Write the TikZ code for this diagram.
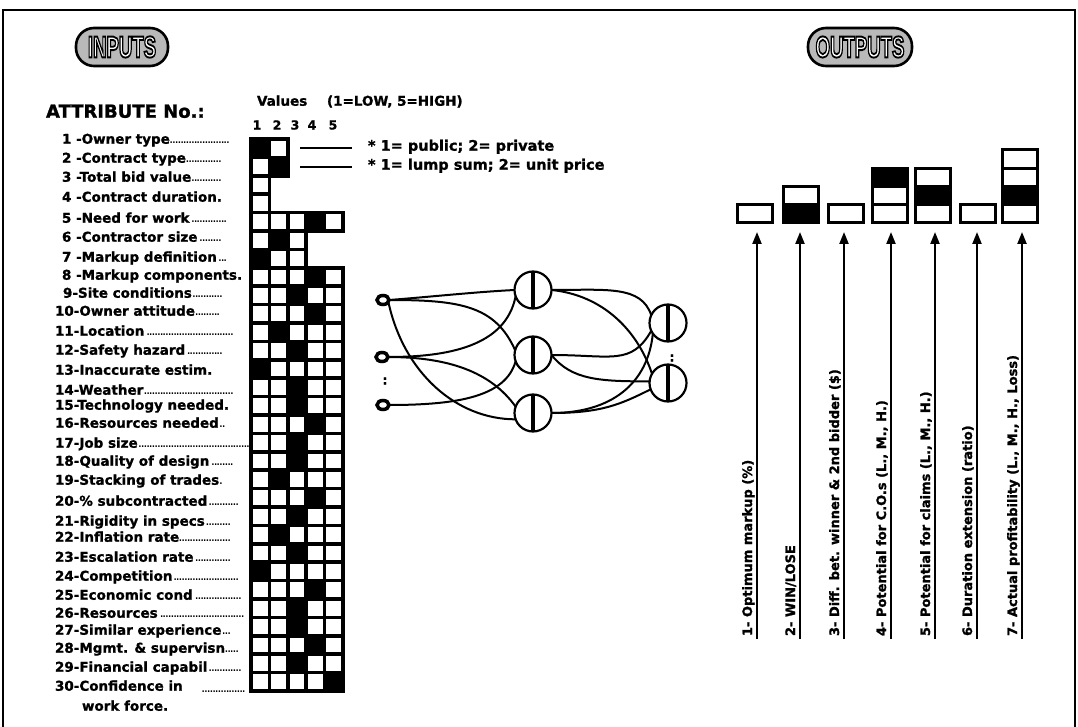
\documentclass[tikz,border=0pt]{standalone}
\usepackage{fontspec}
\setmainfont{DejaVu Sans}[BoldFeatures={FakeBold=1.2}]
\newfontfamily\pillfont{Liberation Sans}
\usetikzlibrary{shapes.geometric,arrows.meta}

% dense dot leaders after the attribute names
\newcommand\dotlead{\leaders\hbox to 2.7pt{\hss\mdseries.\hss}\hfill}
\newcommand\lblsize{\fontsize{13.5}{15}\selectfont\bfseries}
% white letters with a black contour (fill + stroke rendering mode)
\newcommand\outlined[1]{\special{pdf:literal direct 2 Tr 1.9 w 0 G}#1\special{pdf:literal direct 0 Tr}}

\begin{document}
\begin{tikzpicture}[x=1pt,y=-1pt,
  every node/.style={inner sep=0pt, outer sep=0pt},
  frameline/.style={line width=2pt},
  pill/.style={draw, line width=2.6pt, fill=gray!55, rounded corners=18pt, minimum height=38pt},
  pilltext/.style={font=\pillfont\fontsize{30}{30}\selectfont\bfseries, xscale=0.62, text=white},
  attr/.style={font=\lblsize, anchor=mid west},
  cellbox/.style={draw, line width=3.6pt, minimum size=18.4pt},
  note/.style={font=\fontsize{14.5}{16}\selectfont\bfseries, anchor=mid west},
  notelink/.style={line width=1.3pt},
  inunit/.style={draw, ellipse, line width=3.5pt, minimum width=12pt, minimum height=9pt},
  unit/.style={draw, circle, line width=2.2pt, minimum size=37pt},
  unitbar/.style={line width=3.5pt},
  link/.style={line width=2pt},
  outcell/.style={draw, line width=3pt, minimum width=35pt, minimum height=18.3pt},
  outarrow/.style={line width=2.2pt, -{Triangle[length=12pt,width=9pt]}, shorten >=9pt},
  outtext/.style={font=\fontsize{13}{14}\selectfont\bfseries, rotate=90, anchor=base west},
]
\useasboundingbox (0,0) rectangle (1078,727);

% title pills
\node[pill, minimum width=92pt] (inpill) at (122,47) {};
\node[pilltext] (inputs) at (inpill) {\outlined{INPUTS}};
\node[pill, minimum width=104pt] (outpill) at (860,47) {};
\node[pilltext] (outputs) at (outpill) {\outlined{OUTPUTS}};

% frame
\draw[frameline] (3,727) -- (3,10) -- (1075,10) -- (1075,727);

% headings of the attribute table
\node[attr, font=\fontsize{18}{20}\selectfont\bfseries] (attrhead) at (46,115) {ATTRIBUTE No.:};
\node[attr] (values) at (257,103) {Values};
\node[attr] (scale) at (327,103) {(1=LOW, 5=HIGH)};
\foreach \d/\x in {1/257,2/277,3/295,4/312,5/333}
  \node[font=\fontsize{12.5}{14}\selectfont\bfseries] (col-\d) at (\x,125) {\d};

% value grid: row / number of cells / marked cell
\foreach \r/\n/\b in {1/2/1, 2/2/2, 3/1/0, 4/1/0, 5/5/4, 6/3/2, 7/3/1, 8/5/4, 9/5/3,
    10/5/4, 11/5/2, 12/5/3, 13/5/1, 14/5/3, 15/5/3, 16/5/4, 17/5/3, 18/5/3, 19/5/2,
    20/5/4, 21/5/3, 22/5/2, 23/5/3, 24/5/1, 25/5/4, 26/5/3, 27/5/3, 28/5/4, 29/5/3, 30/5/5} {
  \foreach \c in {1,...,\n} {
    \ifnum\c=\b\relax \def\fc{black}\else \def\fc{white}\fi
    \node[cellbox, fill=\fc] (cell-\r-\c) at ({251+(\c-0.5)*18.4}, {139+(\r-0.5)*18.4}) {};
  }
}

% attribute names: number / start x / y / end of leader (0 = none) / text
\foreach \i/\xs/\yy/\xe/\t in {
    1/62/141/230/1 -Owner type, 2/62/160/223/2 -Contract type, 3/62/179/223/3 -Total bid value,
    4/62/199/0/4 -Contract duration., 5/62/220/227/5 -Need for work, 6/62/239/223/6 -Contractor size,
    7/62/259/227/7 -Markup definition, 8/62/277/0/8 -Markup components., 9/63/295/223/9-Site conditions,
    10/55/313/222/10-Owner attitude, 11/55/333/235/11-Location, 12/55/352/223/12-Safety hazard,
    13/55/372/0/13-Inaccurate estim., 14/55/392/235/14-Weather, 15/55/407/0/15-Technology needed.,
    16/55/425/227/16-Resources needed, 17/55/445/250/17-Job size, 18/55/463/235/18-Quality of design,
    19/55/482/223/19-Stacking of trades, 20/55/503/240/20-\% subcontracted, 21/55/523/233/21-Rigidity in specs,
    22/55/539/233/22-Inflation rate, 23/55/559/233/23-Escalation rate, 24/55/578/240/24-Competition,
    25/55/597/243/25-Economic cond, 26/55/615/245/26-Resources, 27/55/632/233/27-Similar experience,
    28/55/650/240/28-Mgmt. \& supervisn, 29/55/669/243/29-Financial capabil} {
  \ifnum\xe>0\relax
    \pgfmathsetlengthmacro\w{\xe-\xs}
    \node[attr] (attr-\i) at (\xs,\yy) {\makebox[\w][l]{\t\dotlead}};
  \else
    \node[attr] (attr-\i) at (\xs,\yy) {\t};
  \fi
}
\node[attr] (attr-30) at (55,688) {30-Confidence in};
\node[attr] (attr-30lead) at (202,690) {\makebox[45pt][l]{\dotlead}};
\node[attr] (attr-30b) at (82,708) {work force.};

% notes on the first two attributes
\node[note] (note1) at (368,148) {* 1= public; 2= private};
\node[note] (note2) at (368,167) {* 1= lump sum; 2= unit price};
\coordinate (lead1) at (300,148);
\coordinate (lead2) at (300,167);
\draw[notelink] (lead1) -- ([xshift=-16pt]lead1 -| note1.west);
\draw[notelink] (lead2) -- ([xshift=-16pt]lead2 -| note2.west);

% neural network
\node[inunit] (i1) at (383,300) {};
\node[inunit] (i2) at (382,357) {};
\node[inunit] (i3) at (383,405) {};
\node[font=\fontsize{13}{14}\selectfont\bfseries] (idots) at (385,381) {:};
\node[unit] (h1) at (533,290) {};
\node[unit] (h2) at (533,355) {};
\node[unit] (h3) at (533,413) {};
\node[unit] (o1) at (668,323) {};
\node[unit] (o2) at (668,383) {};
\node[font=\fontsize{13}{14}\selectfont\bfseries] (odots) at (672,358) {:};
\foreach \u in {h1,h2,h3,o1,o2}
  \draw[unitbar] (\u.north) -- (\u.south);

% input to hidden links
\draw[link] (i1.east) .. controls +(40,-3) and +(-40,2) .. (h1.west);
\draw[link] (i1.east) .. controls +(70,0) and +(-20,-45) .. (h2.165);
\draw[link] (i1.-20) .. controls +(15,70) and +(-60,0) .. (h3.200);
\draw[link] (i2.east) .. controls +(60,0) and +(-10,50) .. (h1.200);
\draw[link] (i2.east) .. controls +(60,0) and +(-25,-35) .. (h3.160);
\draw[link] (i3.east) .. controls +(70,0) and +(-10,35) .. (h2.200);

% hidden to output links
\draw[link] (h1.east) .. controls +(55,0) and +(-10,-30) .. (o1.155);
\draw[link] (h1.east) .. controls +(50,5) and +(-15,-45) .. (o2.150);
\draw[link] (h2.east) .. controls +(60,0) and +(-20,35) .. (o1.205);
\draw[link] (h2.east) .. controls +(20,25) and +(-50,0) .. (o2.175);
\draw[link] (h3.east) .. controls +(60,0) and +(-5,50) .. (o1.215);
\draw[link] (h3.east) .. controls +(50,0) and +(-30,15) .. (o2.200);

% output bars: box / x / level / fill
\foreach \k/\x/\j/\f in {1/755/1/white, 2/801/1/black, 2/801/2/white, 3/846/1/white,
    4/890/1/white, 4/890/2/white, 4/890/3/black, 5/933/1/white, 5/933/2/black, 5/933/3/white,
    6/978/1/white, 7/1020/1/white, 7/1020/2/black, 7/1020/3/white, 7/1020/4/white}
  \node[outcell, fill=\f] (box-\k-\j) at (\x,{223-(\j-0.5)*18.3}) {};

% arrows up to the output bars
\foreach \k/\x in {1/757,2/800,3/844,4/891,5/935,6/977,7/1022} {
  \coordinate (foot-\k) at (\x,639);
  \draw[outarrow] (foot-\k) -- (foot-\k |- box-\k-1.south);
}

% output names
\node[outtext] (otext-1) at (752,636) {1- Optimum markup (\%)};
\node[outtext] (otext-2) at (795,636) {2- WIN/LOSE};
\node[outtext] (otext-3) at (839,636) {3- Diff. bet. winner \& 2nd bidder (\$)};
\node[outtext] (otext-4) at (886,636) {4- Potential for C.O.s (L., M., H.)};
\node[outtext] (otext-5) at (930,636) {5- Potential for claims (L., M., H.)};
\node[outtext] (otext-6) at (972,636) {6- Duration extension (ratio)};
\node[outtext] (otext-7) at (1017,636) {7- Actual profitability (L., M., H., Loss)};
\end{tikzpicture}
\end{document}
